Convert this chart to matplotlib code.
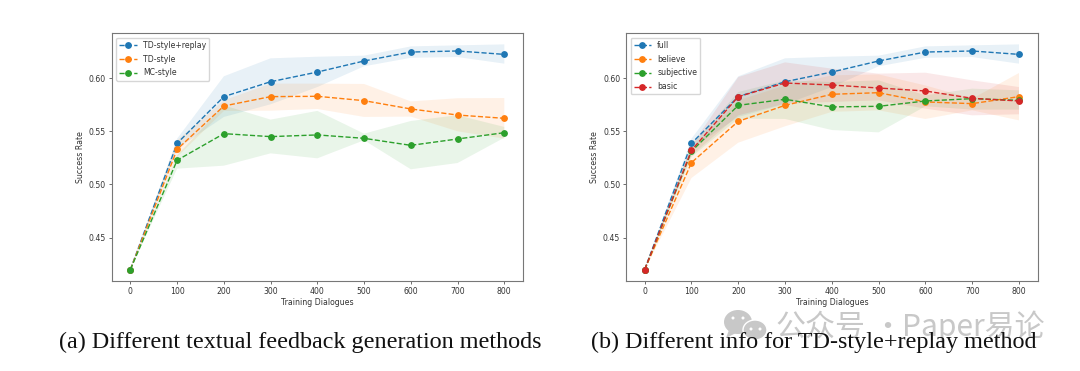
import matplotlib
matplotlib.use('Agg')
import matplotlib.pyplot as plt
from matplotlib.patches import Ellipse, Polygon

steps = [0, 100, 200, 300, 400, 500, 600, 700, 800]

# left panel
td_replay = [.42, .5386, .5825, .5965, .6056, .616, .6244, .6254, .6222]
td_replay_hi = [.42, .543, .6016, .6185, .620, .621, .6297, .6307, .6316]
td_replay_lo = [.42, .5336, .5634, .5753, .5915, .611, .619, .6197, .6135]
td = [.42, .533, .5737, .5825, .5828, .5787, .5709, .5652, .5621]
td_hi = [.42, .5414, .579, .5947, .5947, .5944, .578, .581, .5812]
td_lo = [.42, .5258, .569, .5693, .5709, .5634, .5637, .5499, .543]
mc = [.42, .5227, .5477, .5449, .5465, .5433, .5367, .5427, .5486]
mc_hi = [.42, .5273, .5743, .5609, .5691, .5477, .5596, .565, .554]
mc_lo = [.42, .5148, .5176, .5292, .5245, .5415, .5142, .5201, .5439]

# right panel
believe = [.42, .5205, .5593, .5743, .5847, .5862, .5775, .5759, .5825]
believe_hi = [.42, .5336, .579, .593, .6025, .6034, .593, .5806, .6047]
believe_lo = [.42, .506, .5392, .5546, .5682, .5696, .5615, .5696, .5602]
subjective = [.42, .5311, .5743, .58, .5728, .5734, .5784, .5806, .579]
subjective_hi = [.42, .5367, .5868, .5978, .5962, .5978, .5837, .59, .5884]
subjective_lo = [.42, .5258, .5618, .5615, .5511, .5489, .5734, .5703, .5703]
basic = [.42, .5321, .5825, .5953, .5934, .5906, .5878, .5809, .5784]
basic_hi = [.42, .5367, .6009, .6147, .6088, .6041, .605, .5978, .5915]
basic_lo = [.42, .5273, .5649, .5759, .5775, .579, .5712, .5649, .5659]

left_series = [('TD-style+replay', td_replay, td_replay_lo, td_replay_hi),
               ('TD-style', td, td_lo, td_hi),
               ('MC-style', mc, mc_lo, mc_hi)]
right_series = [('full', td_replay, td_replay_lo, td_replay_hi),
                ('believe', believe, believe_lo, believe_hi),
                ('subjective', subjective, subjective_lo, subjective_hi),
                ('basic', basic, basic_lo, basic_hi)]

W = 1080.0
H = 371.0
TEXT = '#333333'


def panel(fig, x0, x1, series):
    ax = fig.add_axes([x0 / W, 1 - 281 / H, (x1 - x0) / W, 248 / H])
    for name, vals, lo, hi in series:
        ax.plot(steps, vals, '--o', label=name, lw=1.0, ms=3.9)
        ax.fill_between(steps, lo, hi, alpha=0.1)
    ax.set_xlim(-40, 840)
    ax.set_ylim(0.4092, 0.6423)
    ax.set_xticks(steps)
    ax.set_yticks([0.45, 0.50, 0.55, 0.60])
    ax.set_yticklabels(['0.45', '0.50', '0.55', '0.60'])
    ax.tick_params(labelsize=5.6, length=2.2, width=0.5, pad=2, colors=TEXT)
    ax.set_xlabel('Training Dialogues', fontsize=5.6, labelpad=1.5, color=TEXT)
    ax.set_ylabel('Success Rate', fontsize=5.6, labelpad=2.5, color=TEXT)
    for s in ax.spines.values():
        s.set_linewidth(0.8)
        s.set_color('#777777')
    ax.legend(loc='upper left', fontsize=5.6, labelcolor=TEXT, borderaxespad=0.6,
              handlelength=2.2, labelspacing=0.62)
    return ax


fig = plt.figure(figsize=(10.8, 3.71), dpi=100)
panel(fig, 111.7, 523, left_series)
panel(fig, 626, 1037.7, right_series)

# watermark
bg = fig.add_axes([0, 0, 1, 1], zorder=5)
bg.set_xlim(0, W)
bg.set_ylim(H, 0)
bg.axis('off')
grey = '#c8c8c8'
bg.add_patch(Ellipse((738, 322), 28, 24, color=grey, lw=0))
bg.add_patch(Polygon([[729, 330], [726, 338], [736, 333]], color=grey, lw=0))
bg.add_patch(Ellipse((755, 330), 24, 20, color=grey, ec='white', lw=1))
for ex, ey in [(733, 318), (743, 318), (751, 329), (760, 329)]:
    bg.add_patch(Ellipse((ex, ey), 3, 3, color='white', lw=0))
bg.text(775, 327, '公众号', fontsize=21.6, color=grey, va='center', ha='left',
        family=['Noto Sans CJK SC', 'DejaVu Sans'])
bg.text(887, 327, '·', fontsize=21.6, color=grey, va='center', ha='center',
        family=['Noto Sans CJK SC', 'DejaVu Sans'])
bg.text(902, 327, 'Paper易论', fontsize=21.6, color=grey, va='center', ha='left',
        family=['Noto Sans CJK SC', 'DejaVu Sans'])

# captions
bg.text(300, 342, '(a) Different textual feedback generation methods', fontsize=17.4,
        family='Liberation Serif', ha='center', va='center', color='#111111')
bg.text(814, 342, '(b) Different info for TD-style+replay method', fontsize=17.4,
        family='Liberation Serif', ha='center', va='center', color='#111111')

fig.savefig('out.png', dpi=100)
